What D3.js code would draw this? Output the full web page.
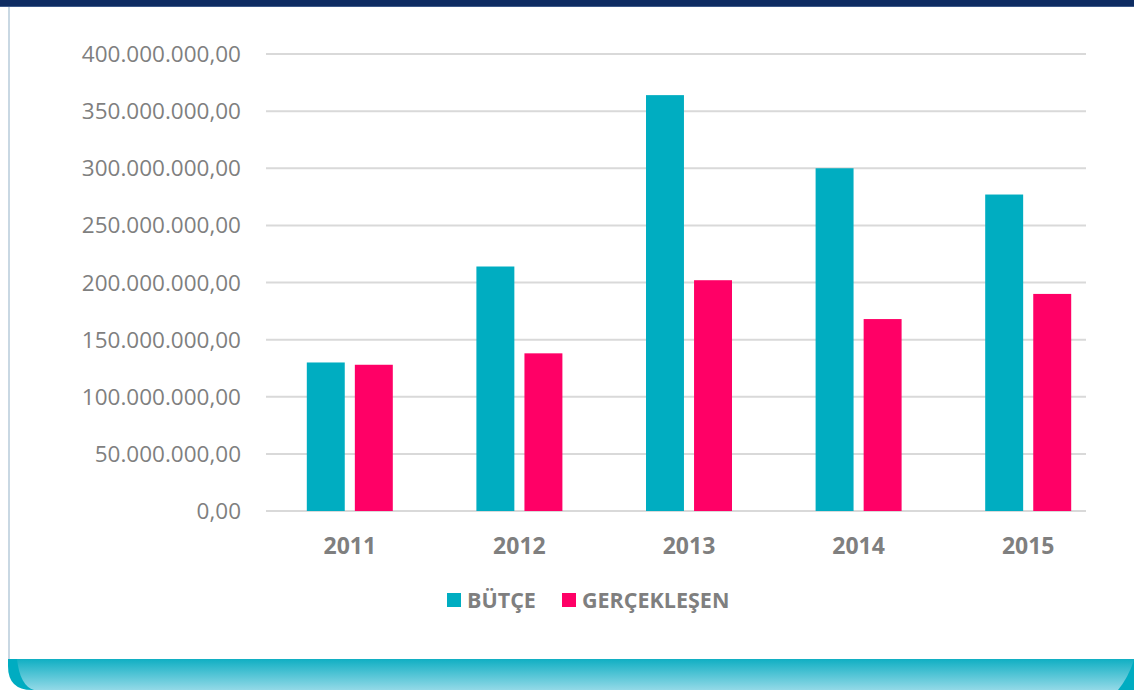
<!DOCTYPE html>
<html>
<head>
<meta charset="utf-8">
<script src="https://cdn.jsdelivr.net/npm/d3@7"></script>
<style>
  html, body { margin: 0; padding: 0; background: #fff; }
  svg { display: block; }
</style>
</head>
<body>
<svg id="chart" width="1134" height="690"></svg>
<script>
var years = ["2011", "2012", "2013", "2014", "2015"]
var seriesNames = ["BÜTÇE", "GERÇEKLEŞEN"]
var butce = [130000000, 214000000, 364000000, 300000000, 277000000]
var gerceklesen = [128000000, 138000000, 202000000, 168000000, 190000000]
var yTicks = [0, 50000000, 100000000, 150000000, 200000000, 250000000, 300000000, 350000000, 400000000]
var colors = ["#00adc1", "#ff0066"]

var svg = d3.select("#chart")
var W = 1134, H = 690

// frame
var defs = svg.append("defs")
var grad = defs.append("linearGradient").attr("id", "band").attr("x1", 0).attr("y1", 0).attr("x2", 0).attr("y2", 1)
grad.append("stop").attr("offset", "0%").attr("stop-color", "#10afc3")
grad.append("stop").attr("offset", "100%").attr("stop-color", "#93d9e7")

svg.append("rect").attr("x", 0).attr("y", 0).attr("width", W).attr("height", 7).attr("fill", "#0e2c62")
svg.append("rect").attr("x", 0).attr("y", 6).attr("width", W).attr("height", 1).attr("fill", "#3d5a8a")
svg.append("rect").attr("x", 8).attr("y", 7).attr("width", 2).attr("height", 655).attr("fill", "#c9d8e3")

// bottom band: darker outer shape, lighter inner gradient
svg.append("path")
  .attr("d", "M8,659 H1134 V690 H32 Q8,690 8,666 Z")
  .attr("fill", "#00acc1")
svg.append("path")
  .attr("d", "M17,659 H1134 L1134,660 Q1128,678 1118,690 H34 Q20,686 17,659 Z")
  .attr("fill", "url(#band)")

// scales
var y = d3.scaleLinear().domain([0, 400000000]).range([511, 54])
var x = d3.scaleBand().domain(years).range([265, 1113])
var xInner = d3.scaleBand().domain(seriesNames).range([0, 86]).paddingInner(0.21)

var fmt = function (v) {
  var s = d3.format(",.2f")(v)
  return s.replace(/,/g, "#").replace(".", ",").replace(/#/g, ".")
}

// grid
svg.append("g").selectAll("line").data(yTicks).join("line")
  .attr("x1", 266).attr("x2", 1086)
  .attr("y1", d => y(d)).attr("y2", d => y(d))
  .attr("stroke", "#d9d9d9").attr("stroke-width", 2)

// y labels
svg.append("g").selectAll("text").data(yTicks).join("text")
  .attr("x", 241).attr("y", d => y(d))
  .attr("dy", "0.36em")
  .attr("text-anchor", "end")
  .attr("font-family", "Open Sans")
  .attr("font-size", 22.5)
  .attr("fill", "#7f7f7f")
  .text(fmt)

// bars
var rows = years.map((yr, i) => ({ year: yr, values: [butce[i], gerceklesen[i]] }))
var groups = svg.append("g").selectAll("g").data(rows).join("g")
  .attr("transform", d => "translate(" + (x(d.year) + x.bandwidth() / 2 - 43) + ",0)")

groups.selectAll("rect").data(d => d.values.map((v, j) => ({ key: seriesNames[j], v: v, j: j }))).join("rect")
  .attr("x", d => xInner(d.key))
  .attr("width", xInner.bandwidth())
  .attr("y", d => y(d.v))
  .attr("height", d => y(0) - y(d.v))
  .attr("fill", d => colors[d.j])

// x labels
svg.append("g").selectAll("text").data(years).join("text")
  .attr("x", d => x(d) + x.bandwidth() / 2)
  .attr("y", 546)
  .attr("dy", "0.36em")
  .attr("text-anchor", "middle")
  .attr("font-family", "Open Sans")
  .attr("font-weight", "bold")
  .attr("font-size", 23)
  .attr("fill", "#7f7f7f")
  .text(d => d)

// legend
var legend = svg.append("g")
var lx = [447, 562]
seriesNames.forEach(function (name, i) {
  legend.append("rect").attr("x", lx[i]).attr("y", 593).attr("width", 14).attr("height", 14).attr("fill", colors[i])
  legend.append("text")
    .attr("x", lx[i] + 20).attr("y", 600)
    .attr("dy", "0.36em")
    .attr("font-family", "Open Sans")
    .attr("font-weight", "bold")
    .attr("font-size", 21.5)
    .attr("fill", "#7f7f7f")
    .text(name)
})
</script>
</body>
</html>
